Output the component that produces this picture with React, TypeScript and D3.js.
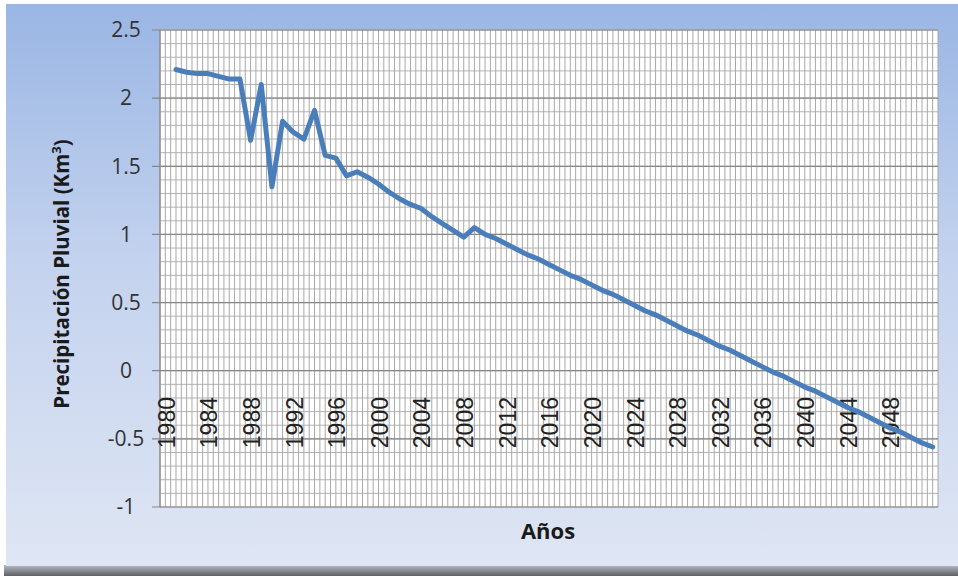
import React from "react";
import * as d3 from "d3";

// Years on the category axis
const years: number[] = [
  1980, 1981, 1982, 1983, 1984, 1985, 1986, 1987, 1988, 1989,
  1990, 1991, 1992, 1993, 1994, 1995, 1996, 1997, 1998, 1999,
  2000, 2001, 2002, 2003, 2004, 2005, 2006, 2007, 2008, 2009,
  2010, 2011, 2012, 2013, 2014, 2015, 2016, 2017, 2018, 2019,
  2020, 2021, 2022, 2023, 2024, 2025, 2026, 2027, 2028, 2029,
  2030, 2031, 2032, 2033, 2034, 2035, 2036, 2037, 2038, 2039,
  2040, 2041, 2042, 2043, 2044, 2045, 2046, 2047, 2048, 2049,
  2050, 2051, 2052,
];

// Rainfall volume (km³) per year; 1980 has no record
const precipitacion: (number | null)[] = [
  null, 2.21, 2.19, 2.18, 2.18, 2.16, 2.14, 2.14, 1.69, 2.1,
  1.35, 1.83, 1.75, 1.7, 1.91, 1.58, 1.56, 1.43, 1.46, 1.42,
  1.37, 1.31, 1.26, 1.22, 1.19, 1.13, 1.08, 1.03, 0.98, 1.05,
  1.0, 0.97, 0.93, 0.89, 0.85, 0.82, 0.78, 0.74, 0.7, 0.67,
  0.63, 0.59, 0.56, 0.52, 0.48, 0.44, 0.41, 0.37, 0.33, 0.29,
  0.26, 0.22, 0.18, 0.15, 0.11, 0.07, 0.03, -0.01, -0.04, -0.08,
  -0.12, -0.15, -0.19, -0.23, -0.27, -0.3, -0.34, -0.38, -0.42, -0.45,
  -0.49, -0.53, -0.56,
];

// Labelled years and value ticks
const yearLabels: number[] = [
  1980, 1984, 1988, 1992, 1996, 2000, 2004, 2008, 2012, 2016,
  2020, 2024, 2028, 2032, 2036, 2040, 2044, 2048,
];
const valueTicks: number[] = [2.5, 2, 1.5, 1, 0.5, 0, -0.5, -1];
const minorTicks: number[] = d3.range(-10, 26).map((i) => i / 10);

const W = 958;
const H = 576;
const plot = { left: 160, right: 938, top: 30, bottom: 507 };

export default function App() {
  const x = d3
    .scaleBand<number>()
    .domain(years)
    .range([plot.left, plot.right])
    .padding(0);
  const bw = x.bandwidth();
  const cx = (yr: number) => (x(yr) as number) + bw / 2;

  const y = d3.scaleLinear().domain([-1, 2.5]).range([plot.bottom, plot.top]);

  const rows = years.map((yr, i) => ({ yr, v: precipitacion[i] }));
  const line = d3
    .line<{ yr: number; v: number | null }>()
    .defined((d) => d.v !== null)
    .x((d) => cx(d.yr))
    .y((d) => y(d.v as number));

  // vertical grid: category boundaries plus mid-category lines
  const vLines: number[] = [];
  years.forEach((yr) => {
    vLines.push(x(yr) as number);
    vLines.push((x(yr) as number) + bw / 2);
  });
  vLines.push(plot.right);

  return (
    <svg
      width={W}
      height={H}
      viewBox={`0 0 ${W} ${H}`}
      style={{ position: "absolute", left: 0, top: 0, background: "#ffffff" }}
    >
      <defs>
        <linearGradient id="bg" x1="0" y1="0" x2="0" y2="1">
          <stop offset="0%" stopColor="#9ab6e4" />
          <stop offset="45%" stopColor="#c3d2ee" />
          <stop offset="100%" stopColor="#dfe6f4" />
        </linearGradient>
        <linearGradient id="shadow" x1="0" y1="0" x2="0" y2="1">
          <stop offset="0%" stopColor="#b8bcc4" />
          <stop offset="100%" stopColor="#5d6066" />
        </linearGradient>
      </defs>

      <rect x={4} y={565} width={W - 4} height={H - 565} fill="url(#shadow)" />
      <rect x={6} y={4} width={W - 6} height={562} fill="url(#bg)" />

      <rect
        x={plot.left}
        y={plot.top}
        width={plot.right - plot.left}
        height={plot.bottom - plot.top}
        fill="#ffffff"
      />

      {minorTicks.map((t) => (
        <line
          key={"mh" + t}
          x1={plot.left}
          x2={plot.right}
          y1={y(t)}
          y2={y(t)}
          stroke="#b4b4b4"
          strokeWidth={1}
        />
      ))}
      {vLines.map((vx, i) => (
        <line
          key={"v" + i}
          x1={vx}
          x2={vx}
          y1={plot.top}
          y2={plot.bottom}
          stroke="#a8a8a8"
          strokeWidth={1}
        />
      ))}
      {valueTicks.map((t) => (
        <line
          key={"h" + t}
          x1={plot.left - 8}
          x2={plot.right}
          y1={y(t)}
          y2={y(t)}
          stroke="#868686"
          strokeWidth={1.2}
        />
      ))}
      <line
        x1={plot.left}
        x2={plot.left}
        y1={plot.top}
        y2={plot.bottom}
        stroke="#868686"
        strokeWidth={1.2}
      />

      {valueTicks.map((t) => (
        <text
          key={"yl" + t}
          x={126}
          y={y(t)}
          dy="0.35em"
          textAnchor="middle"
          fontFamily="'Open Sans', 'Noto Sans', sans-serif"
          fontSize={21}
          fill="#333333"
        >
          {String(t)}
        </text>
      ))}

      {yearLabels.map((yr) => (
        <text
          key={"xl" + yr}
          transform={`translate(${cx(yr) + 1},397) rotate(-90)`}
          dy="0.36em"
          textAnchor="end"
          fontFamily="'Liberation Sans', Arial, sans-serif"
          fontSize={23}
          fill="#222222"
        >
          {yr}
        </text>
      ))}

      <path
        d={line(rows) || ""}
        fill="none"
        stroke="#4a7ebb"
        strokeWidth={5}
        strokeLinejoin="round"
        strokeLinecap="round"
      />

      <text
        transform="translate(62,274) rotate(-90)"
        dy="0.35em"
        textAnchor="middle"
        fontFamily="'Open Sans', 'Noto Sans', sans-serif"
        fontWeight="bold"
        fontSize={20.5}
        fill="#1a1a1a"
      >
        Precipitación Pluvial (Km<tspan fontSize={13} dy="-8">3</tspan>
        <tspan dy="8">)</tspan>
      </text>

      <text
        x={548}
        y={531}
        dy="0.35em"
        textAnchor="middle"
        fontFamily="'Open Sans', 'Noto Sans', sans-serif"
        fontWeight="bold"
        fontSize={22}
        fill="#1a1a1a"
      >
        Años
      </text>
    </svg>
  );
}
